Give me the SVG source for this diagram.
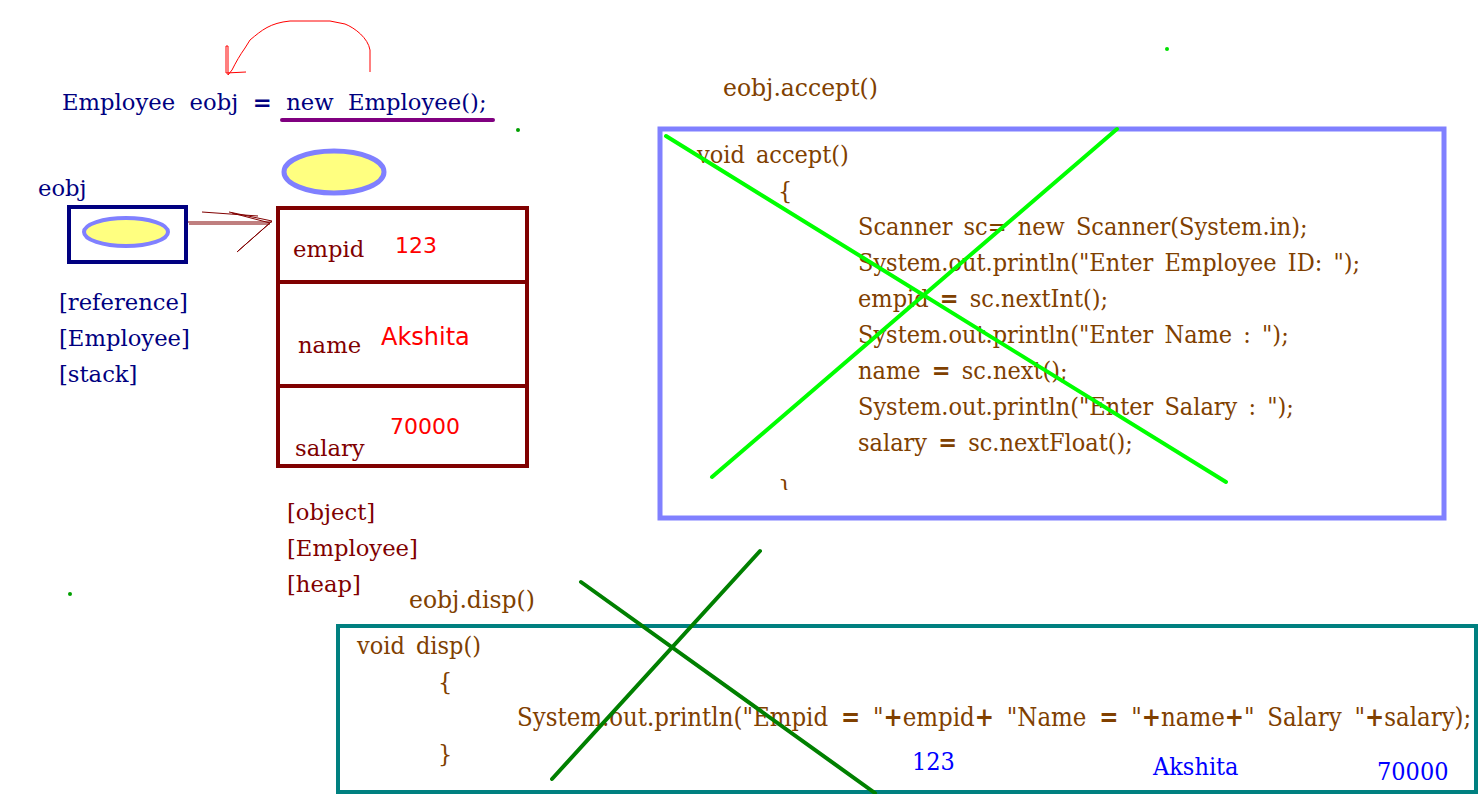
<svg xmlns="http://www.w3.org/2000/svg" width="1481" height="794" viewBox="0 0 1481 794">
<style>
.lbl{font-family:'DejaVu Serif','Liberation Serif',serif;font-size:22.7px}
.code{font-family:'DejaVu Serif Condensed','DejaVu Serif','Liberation Serif',serif;font-stretch:condensed;font-size:25px;word-spacing:4px;fill:#804000}
.navy{fill:#000080}
.maroon{fill:#800000}
.brown{fill:#804000;font-size:23.5px}
.val{font-family:'DejaVu Sans','Liberation Sans',sans-serif;font-size:22px;fill:#ff0000}
.bval{font-family:'DejaVu Serif Condensed','DejaVu Serif',serif;font-stretch:condensed;font-size:25px;fill:#0000ff}
.dot{fill:#00a000}
</style>
<defs>
<clipPath id="clipBrace"><rect x="770" y="470" width="30" height="20"/></clipPath>
</defs>
<rect width="1481" height="794" fill="#ffffff"/>

<g id="dots">
<circle class="dot" cx="518" cy="130" r="2"/>
<circle cx="1167" cy="49" r="2" fill="#00e000"/>
<circle class="dot" cx="70" cy="594" r="2"/>
</g>

<g id="statement">
<text class="lbl navy" x="62" y="110" xml:space="preserve">Employee  eobj  <tspan font-weight="bold">=</tspan>  new  Employee();</text>
<line x1="282" y1="120" x2="493" y2="120" stroke="#800080" stroke-width="4" stroke-linecap="round"/>
</g>

<g id="connectors" fill="none">
<path d="M370,72 L370,50 C368,38 355,28 345,24 L330,21 L290,21 C270,23 262,30 250,40 L245,48 C240,55 236,62 232,70 L228,75 M228,75 L228,46 L226,46 L226,73 M226,73 L246,72" stroke="#ff0000" stroke-width="1"/>
<path d="M188,222 L272,222 M189,224 L270,224 M229,212 L272,221 L237,252 M232,213 L270,223 L238,251 M202,212 L258,216" stroke="#800000" stroke-width="1"/>
</g>

<g id="ref-label">
<text class="lbl navy" x="38" y="196">eobj</text>
</g>

<g id="reference">
<rect x="69" y="207" width="117" height="55" fill="none" stroke="#000080" stroke-width="4"/>
<ellipse cx="126" cy="232" rx="42" ry="14" fill="#ffff80" stroke="#8080ff" stroke-width="4"/>
<text class="lbl navy" x="59" y="310">[reference]</text>
<text class="lbl navy" x="59" y="346">[Employee]</text>
<text class="lbl navy" x="59" y="382">[stack]</text>
</g>

<g id="object-ellipse">
<ellipse cx="334" cy="172" rx="50" ry="21" fill="#ffff80" stroke="#8080ff" stroke-width="5"/>
</g>

<g id="heap-object">
<rect x="278" y="208" width="249" height="258" fill="none" stroke="#800000" stroke-width="4"/>
<line x1="278" y1="282" x2="527" y2="282" stroke="#800000" stroke-width="4"/>
<line x1="278" y1="386" x2="529" y2="386" stroke="#800000" stroke-width="4"/>
<text class="lbl maroon" x="293" y="257">empid</text>
<text class="val" x="395" y="253">123</text>
<text class="lbl maroon" x="298" y="353">name</text>
<text class="val" x="381" y="345" style="font-size:24px">Akshita</text>
<text class="lbl maroon" x="295" y="456">salary</text>
<text class="val" x="390" y="434">70000</text>
<text class="lbl maroon" x="287" y="520">[object]</text>
<text class="lbl maroon" x="287" y="556">[Employee]</text>
<text class="lbl maroon" x="287" y="592">[heap]</text>
</g>

<g id="accept-method">
<text class="lbl brown" x="723" y="96">eobj.accept()</text>
<rect x="660" y="129" width="784" height="389" fill="none" stroke="#8080ff" stroke-width="5"/>
<text class="code" x="697" y="163">void accept()</text>
<text class="code" x="778" y="199">{</text>
<text class="code" x="858" y="235" xml:space="preserve">Scanner sc= new Scanner(System.in);</text>
<text class="code" x="858" y="271" xml:space="preserve">System.out.println("Enter Employee ID: ");</text>
<text class="code" x="858" y="307" xml:space="preserve">empid <tspan font-weight="bold">=</tspan> sc.nextInt();</text>
<text class="code" x="858" y="343" xml:space="preserve">System.out.println("Enter Name : ");</text>
<text class="code" x="858" y="379" xml:space="preserve">name <tspan font-weight="bold">=</tspan> sc.next();</text>
<text class="code" x="858" y="415" xml:space="preserve">System.out.println("Enter Salary : ");</text>
<text class="code" x="858" y="451" xml:space="preserve">salary <tspan font-weight="bold">=</tspan> sc.nextFloat();</text>
<text class="code" x="778" y="497" clip-path="url(#clipBrace)">}</text>
<line x1="666" y1="136" x2="1226" y2="482" stroke="#00ff00" stroke-width="4" stroke-linecap="round"/>
<line x1="712" y1="477" x2="1117" y2="129" stroke="#00ff00" stroke-width="4" stroke-linecap="round"/>
</g>

<g id="disp-method">
<text class="lbl brown" x="409" y="608">eobj.disp()</text>
<rect x="338" y="626" width="1138" height="166" fill="none" stroke="#008080" stroke-width="4"/>
<text class="code" x="357" y="654">void disp()</text>
<text class="code" x="438" y="690">{</text>
<text class="code" x="517" y="726" xml:space="preserve" style="font-size:25.5px;word-spacing:5.5px">System.out.println("Empid <tspan font-weight="bold">=</tspan> "<tspan font-weight="bold">+</tspan>empid<tspan font-weight="bold">+</tspan> "Name <tspan font-weight="bold">=</tspan> "<tspan font-weight="bold">+</tspan>name<tspan font-weight="bold">+</tspan>" Salary "<tspan font-weight="bold">+</tspan>salary);</text>
<text class="code" x="438" y="762">}</text>
<text class="bval" x="912" y="770">123</text>
<text class="bval" x="1153" y="775">Akshita</text>
<text class="bval" x="1377" y="780">70000</text>
<line x1="581" y1="582" x2="875" y2="793" stroke="#008000" stroke-width="4" stroke-linecap="round"/>
<line x1="552" y1="779" x2="760" y2="551" stroke="#008000" stroke-width="4" stroke-linecap="round"/>
</g>
</svg>
